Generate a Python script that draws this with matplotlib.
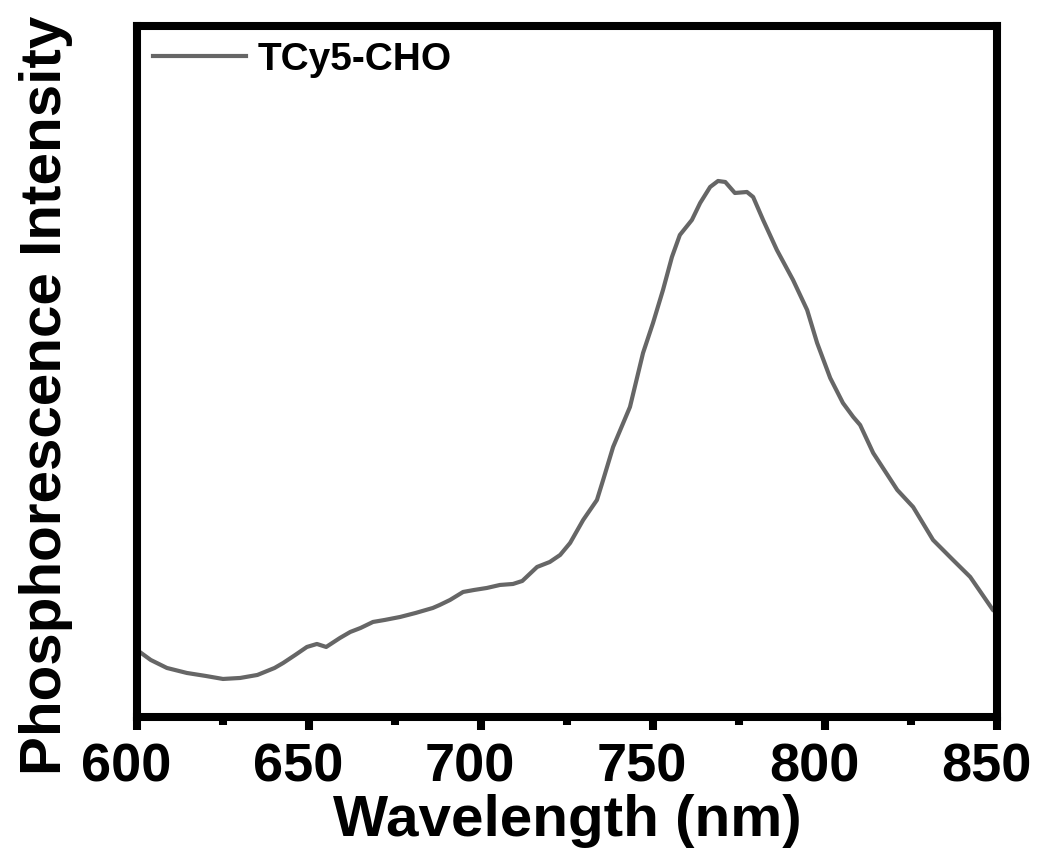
import numpy as np
import matplotlib.pyplot as plt
import matplotlib.transforms as mtransforms

plt.rcParams['font.family'] = 'Liberation Sans'
plt.rcParams['font.weight'] = 'bold'

# wavelength (nm) and intensity (a.u.)
wavelength = [600, 604, 608.7, 614.5, 620, 625, 630, 635, 640, 642.5, 646, 649.4,
              652.3, 655, 659, 662, 665, 668.6, 672, 676.5, 681, 686, 688, 691,
              694.8, 698, 701.7, 705.5, 709.3, 712, 716.3, 720, 723, 725.9, 729.7,
              733.7, 735.5, 738.4, 743.3, 747.1, 750, 752.9, 755.5, 757.8, 761.3,
              763.7, 766.6, 768.9, 771, 773.8, 777.3, 779.1, 782, 786, 790.7, 794.8,
              797.7, 801.5, 805.2, 808.2, 810.2, 814, 821, 825.6, 831.4, 837.2,
              842.2, 848.8, 850]
intensity = [67, 57, 49, 44, 41, 38, 39, 42, 49, 54, 62, 70,
             73, 70, 79, 85, 89, 95, 97, 100, 104, 109, 112, 117,
             125, 127, 129, 132, 133, 136, 150, 155, 162, 174, 197,
             217, 237, 270, 310, 364, 394, 427, 460, 482, 497,
             514, 530, 536, 535, 524, 525, 520, 497, 467, 437, 407,
             374, 339, 314, 300, 292, 264, 227, 210, 177, 157,
             140, 107, 104]
xticks = [600, 650, 700, 750, 800, 850]
xminor = [625, 675, 725, 775, 825]

fig = plt.figure(figsize=(10.4, 8.52), dpi=100)
ax = fig.add_axes([0.1317, 0.1585, 0.827, 0.811])

ax.plot(wavelength, intensity, color='#666666', lw=3, label='TCy5-CHO')

ax.set_xlim(600, 850)
ax.set_ylim(0, 691)
ax.set_xticks(xticks)
ax.set_xticks(xminor, minor=True)
ax.set_yticks([])

for s in ax.spines.values():
    s.set_linewidth(5.8)
ax.tick_params(axis='x', which='major', direction='out', length=9.5, width=5.8,
               labelsize=39, pad=9)
ax.tick_params(axis='x', which='minor', direction='out', length=5.8, width=5.8)

# labels sit a bit left of their ticks in the original
shift = mtransforms.ScaledTranslation(-11 / 100, 0, fig.dpi_scale_trans)
for lab in ax.get_xticklabels():
    lab.set_transform(lab.get_transform() + shift)

ax.set_xlabel('Wavelength (nm)', fontsize=42, fontweight='bold', labelpad=1)
ax.set_ylabel('Phosphorescence Intensity', fontsize=42, fontweight='bold')
ax.yaxis.set_label_coords(-0.074, 0.466)

ax.legend(loc='upper left', frameon=False, handlelength=2.4,
          handletextpad=0.3, borderaxespad=0.0, prop={'weight': 'bold', 'size': 28})

fig.savefig('out.png', dpi=100)
